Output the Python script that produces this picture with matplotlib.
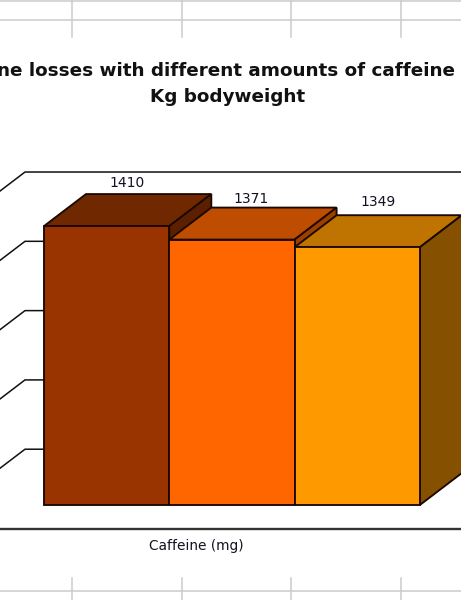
import matplotlib
matplotlib.use('Agg')
import matplotlib.pyplot as plt
from matplotlib.lines import Line2D
from matplotlib.patches import Polygon

W, H = 461, 600

# data
amounts = ['low', 'mid', 'high']
losses = [1410, 1371, 1349]
wall_ticks = [800, 1000, 1200, 1400, 1600]

front_colors = ['#993300', '#ff6600', '#ff9900']
top_colors = ['#702800', '#bf4d00', '#bf7300']
side_colors = ['#5c2000', '#9c3f00', '#855000']
label_pad = [39, 32, 43]
label_shift = [0.16, 0.15, 0.17]

# scale of the chart, px per unit
px_x = 125.3
px_y = 0.3465
base = 605
depth_x = 42 / px_x
depth_y = 32 / px_y
wall_x = (25 - 44) / px_x
wall_offset = -34
edge = '#1c0800'
edge_w = 1.35

fig = plt.figure(figsize=(W / 100, H / 100), dpi=100)
ax = fig.add_axes([0, 0, 1, 1])
ax.set_xlim(-44 / px_x, (W - 44) / px_x)
ax.set_ylim(base - (H - 505) / px_y, base + 505 / px_y)
ax.axis('off')

# back wall lines
for t in wall_ticks:
    y = t + wall_offset
    ax.plot([wall_x - depth_x, wall_x, ax.get_xlim()[1]], [y - depth_y, y, y],
            color='#111111', lw=1.1, zorder=1)

# floor edge
ax.axhline(base - 24 / px_y, color='#333333', lw=1.7, zorder=1)

# bars, left to right so each one covers the side of the one before
for i, v in enumerate(losses):
    x0, x1 = i, i + 1
    z = 2 + i
    ax.bar(i + 0.5, v - base, width=1, bottom=base, color=front_colors[i],
           edgecolor=edge, linewidth=edge_w, zorder=z + 0.2)
    top = Polygon([(x0, v), (x0 + depth_x, v + depth_y), (x1 + depth_x, v + depth_y), (x1, v)],
                  closed=True, fc=top_colors[i], ec=edge, lw=edge_w, zorder=z)
    side = Polygon([(x1, v), (x1 + depth_x, v + depth_y), (x1 + depth_x, base + depth_y), (x1, base)],
                   closed=True, fc=side_colors[i], ec=edge, lw=edge_w, zorder=z)
    ax.add_patch(top)
    ax.add_patch(side)
    ax.text(i + 0.5 + label_shift[i], v + depth_y + label_pad[i] - 6, str(v), ha='center', va='center',
            fontsize=10, color='#111122', zorder=10)

ax.text(455 / W, 1 - 71 / H, 'ne losses with different amounts of caffeine', transform=ax.transAxes,
        ha='right', va='center', fontsize=13.2, fontweight='bold', color='#111111')
ax.text(228 / W, 1 - 97 / H, 'Kg bodyweight', transform=ax.transAxes,
        ha='center', va='center', fontsize=13.2, fontweight='bold', color='#111111')
ax.text(196 / W, 1 - 546 / H, 'Caffeine (mg)', transform=ax.transAxes,
        ha='center', va='center', fontsize=9.9, color='#111122')

# spreadsheet cells behind the chart
grey = '#cccccc'
for py in [0.5, 19.5, 590.5]:
    fig.add_artist(Line2D([0, 1], [1 - py / H, 1 - py / H], color=grey, lw=1.1))
for px in [72, 182, 291, 401]:
    fig.add_artist(Line2D([px / W, px / W], [1, 1 - 37 / H], color=grey, lw=1.1))
    fig.add_artist(Line2D([px / W, px / W], [1 - 578 / H, 0], color=grey, lw=1.1))

fig.savefig('out.png', dpi=100)
